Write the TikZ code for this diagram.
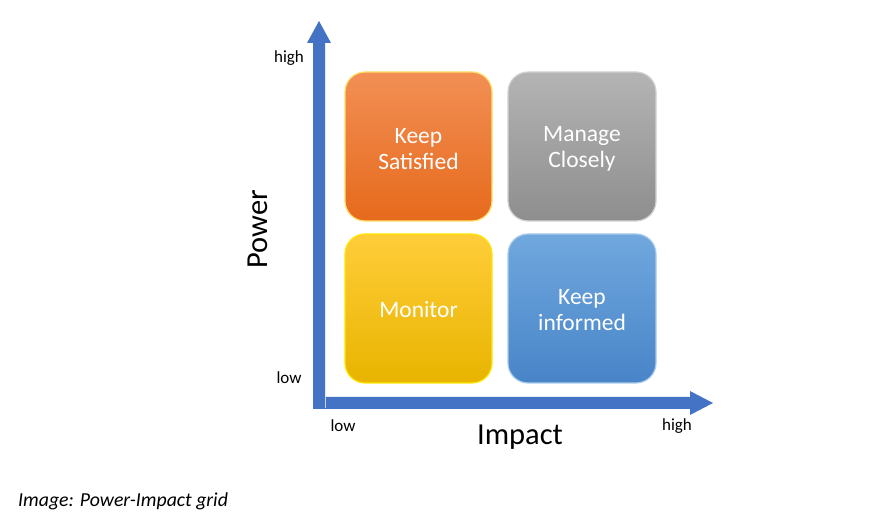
\documentclass[tikz,border=0pt]{standalone}
\usepackage{fontspec}
\setmainfont{Carlito}
\definecolor{axisblue}{HTML}{4472C4}
\definecolor{orTop}{HTML}{F28F55}
\definecolor{orBot}{HTML}{E66A1C}
\definecolor{grTop}{HTML}{B4B4B4}
\definecolor{grBot}{HTML}{8E8E8E}
\definecolor{yeTop}{HTML}{FFCD3A}
\definecolor{yeBot}{HTML}{E8B400}
\definecolor{blTop}{HTML}{70A8DE}
\definecolor{blBot}{HTML}{4884C8}
\begin{document}
\begin{tikzpicture}[x=1pt,y=-1pt,
  quad/.style={rounded corners=20pt, line width=1.2pt},
  quadtext/.style={text=white, align=center, font=\fontsize{23.5}{26}\selectfont},
  axislab/.style={font=\fontsize{30.5}{34}\selectfont, text=black},
  ticklab/.style={font=\fontsize{17}{19}\selectfont, text=black, inner sep=0pt}]
\useasboundingbox (0,0) rectangle (871,526);
\fill[white] (0,0) rectangle (871,526);
% axes
\fill[axisblue] (313,408) -- (313,43) -- (307,43) -- (319,21) -- (331,43) -- (325,43) -- (325,408) -- cycle;
\fill[axisblue] (313,397) -- (690,397) -- (690,391) -- (713,403) -- (690,415) -- (690,409) -- (313,409) -- cycle;
\draw[white!70!axisblue, line width=0.5pt] (325,397.5) -- (325,408.5);
% quadrants
\shade[quad, top color=orTop, bottom color=orBot] (345,72) rectangle (492,221);
\draw[quad, draw=orange!40!yellow!60!white] (345,72) rectangle (492,221);
\shade[quad, top color=grTop, bottom color=grBot] (508,72) rectangle (656,221);
\draw[quad, draw=gray!35] (508,72) rectangle (656,221);
\shade[quad, top color=yeTop, bottom color=yeBot] (345,234) rectangle (492,383);
\draw[quad, draw=yellow!90!orange] (345,234) rectangle (492,383);
\shade[quad, top color=blTop, bottom color=blBot] (508,234) rectangle (656,383);
\draw[quad, draw=blTop!60!white] (508,234) rectangle (656,383);
\node[quadtext] (ks) at (418.5,149) {Keep\\Satisfied};
\node[quadtext] (mc) at (582,149) {Manage\\Closely};
\node[quadtext] (mo) at (418.5,310) {Monitor};
\node[quadtext] (ki) at (582,310) {Keep\\informed};
% labels
\node[axislab, rotate=90] (pw) at (258,229) {Power};
\node[axislab] (im) at (520,437) {Impact};
\node[ticklab] (yh) at (289,58) {high};
\node[ticklab] (yl) at (289,378) {low};
\node[ticklab] (xl) at (343,426) {low};
\node[ticklab] (xh) at (677,426) {high};
\node[font=\fontsize{19.8}{22}\selectfont\itshape, anchor=west, inner sep=0pt] (cap) at (18,501) {Image: Power-Impact grid};
\end{tikzpicture}
\end{document}
